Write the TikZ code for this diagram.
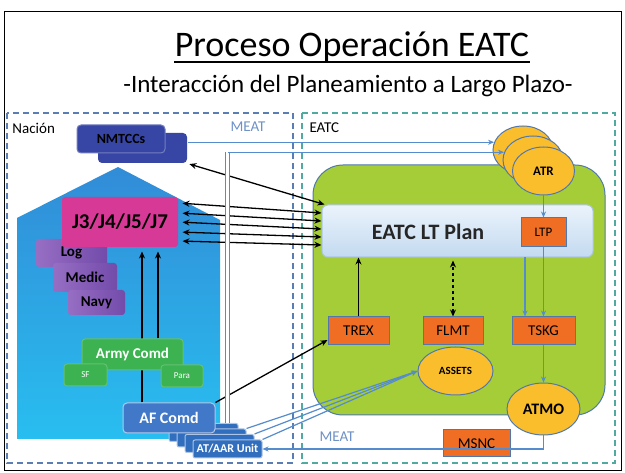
\documentclass[tikz,border=0pt]{standalone}
\usepackage{fontspec}
\setmainfont{Carlito}
\usetikzlibrary{shapes.geometric,arrows.meta,positioning}

\newcommand{\fsz}[1]{\fontsize{#1}{#1}\selectfont}

\definecolor{housetop}{RGB}{50,140,215}
\definecolor{housebot}{RGB}{40,190,240}
\definecolor{jbox}{RGB}{214,58,150}
\definecolor{purpl}{RGB}{115,75,170}
\definecolor{purpr}{RGB}{150,110,195}
\definecolor{armyc}{RGB}{60,178,80}
\definecolor{afc}{RGB}{65,120,200}
\definecolor{unitc}{RGB}{50,110,190}
\definecolor{nmtc}{RGB}{55,70,165}
\definecolor{greenarea}{RGB}{165,205,55}
\definecolor{plantop}{RGB}{235,243,252}
\definecolor{planbot}{RGB}{195,218,240}
\definecolor{orangebox}{RGB}{240,110,35}
\definecolor{yellowbox}{RGB}{250,190,45}
\definecolor{edge}{RGB}{80,120,175}
\definecolor{meat}{RGB}{85,140,205}
\definecolor{meattext}{RGB}{110,145,200}
\definecolor{leftdash}{RGB}{90,125,180}
\definecolor{rightdash}{RGB}{80,170,160}

\begin{document}
\begin{tikzpicture}[x=1pt, y=-1pt, inner sep=0pt, line width=1pt,
  bx/.style = {draw=edge, fill=orangebox, minimum height=28pt, font=\fsz{15}},
  ell/.style = {ellipse, draw=edge, fill=yellowbox, font=\bfseries\fsz{13}},
  purp/.style = {left color=purpr, right color=purpl, rounded corners=3pt, font=\bfseries\fsz{15}},
  army/.style = {fill=armyc, draw=armyc!80!white, rounded corners=3pt, text=white},
  unitbox/.style = {fill=unitc, draw=white!60!unitc, rounded corners=2pt, minimum width=69pt, minimum height=18pt},
  dbl/.style = {{Stealth[length=7pt,width=6pt]}-{Stealth[length=7pt,width=6pt]}, black, line width=1.3pt},
  up/.style = {-{Stealth[length=7pt,width=6pt]}, black, line width=1.3pt},
  blu/.style = {-{Stealth[length=6pt,width=5pt]}, meat, line width=1.2pt}
  ]

\fill[white] (0,0) rectangle (625,473);
\useasboundingbox (0,0) rectangle (625,473);
\draw[black] (4,12) rectangle (621,471);

\node (title) [anchor=base, font=\fsz{36}] at (352,57) {Proceso Operación EATC};
\draw[line width=1.3pt] ([yshift=-5pt]title.base west) -- ([yshift=-5pt]title.base east);
\node (sub) [anchor=base, font=\fsz{25}] at (348,93) {-Interacción del Planeamiento a Largo Plazo-};

\draw[leftdash, line width=1.3pt, dash pattern=on 6pt off 4pt] (7,113) rectangle (293,463);
\draw[rightdash, line width=1.3pt, dash pattern=on 6pt off 4pt] (302,113) rectangle (615,463);
\node (nacion) [anchor=west, font=\fsz{15}] at (12,128) {Nación};
\node (eatc) [anchor=west, font=\fsz{15}] at (309,128) {EATC};
\node (meat1) [text=meattext, font=\fsz{15}] at (248,127) {MEAT};
\node (meat2) [text=meattext, font=\fsz{15}] at (337,437) {MEAT};

% Nacion side
\shade[top color=housetop, bottom color=housebot] (118,167) -- (220,220) -- (220,439) -- (17,439) -- (17,218) -- cycle;

\node (nmtb) [fill=nmtc, rounded corners=4pt, minimum width=89pt, minimum height=30pt] at (142.5,148) {};
\node (nmt) [fill=nmtc, draw=nmtc!70!white, rounded corners=4pt, minimum width=88pt, minimum height=28pt, font=\bfseries\fsz{14}] at (121,139) {NMTCCs};

\node (log) [purp, minimum width=71pt, minimum height=28pt] at (71.5,253) {Log};
\node (medic) [purp, minimum width=64pt, minimum height=29pt] at (85,277.5) {Medic};
\node (navy) [purp, minimum width=57pt, minimum height=25pt] at (96.5,302.5) {Navy};
\node (j3) [fill=jbox, rounded corners=3pt, minimum width=116pt, minimum height=50pt, font=\bfseries\fsz{21}] at (120,222) {J3/J4/J5/J7};

\foreach \k in {1,2,3}
  \node (u\k) [unitbox] at ({203.5+8*(\k-1)},{432.5+5.5*(\k-1)}) {};
\node (unit) [unitbox, text=white, font=\bfseries\fsz{12}] at (227.5,449) {AT/AAR Unit};
\node (af) [fill=afc, draw=white!60!afc, rounded corners=4pt, minimum width=92pt, minimum height=30pt, text=white, font=\bfseries\fsz{16}] at (169,418) {AF Comd};

\draw[up, shorten >=4pt] ([xshift=-27pt]af.north) coordinate (a1) -- (a1 |- j3.south);
\node (army) [army, minimum width=101pt, minimum height=31pt, font=\bfseries\fsz{15}] at (132.5,354.5) {Army Comd};
\node (sf) [army, minimum width=43pt, minimum height=22pt, font=\fsz{9}] at (85.5,375) {SF};
\node (para) [army, minimum width=42pt, minimum height=22pt, font=\fsz{9}] at (182,376) {Para};
\draw[up, shorten >=4pt] ([xshift=25.5pt]army.north) coordinate (a2) -- (a2 |- j3.south);

% EATC side
\draw[edge, fill=greenarea, rounded corners=30pt] (313,165) rectangle (605,415);
\node (plan) [draw=planbot!80!edge, top color=plantop, bottom color=planbot, rounded corners=6pt, minimum width=271pt, minimum height=52pt] at (457.5,231) {};
\node (plantxt) [font=\bfseries\fsz{22}, text=black!85] at (428,232) {EATC LT Plan};
\node (ltp) [bx, minimum width=45pt, minimum height=29pt, font=\fsz{13}] at (543.5,232.5) {LTP};

\node (atr1) [ell, minimum width=60pt, minimum height=48pt] at (523,150) {};
\node (atr2) [ell, minimum width=60pt, minimum height=48pt] at (533,160) {};
\node (atr) [ell, minimum width=62pt, minimum height=48pt] at (543.5,171) {ATR};

\node (trex) [bx, minimum width=61pt] at (358.5,331) {TREX};
\node (flmt) [bx, minimum width=60pt] at (453,331) {FLMT};
\node (tskg) [bx, minimum width=63pt] at (543.5,331) {TSKG};
\node (assets) [ell, minimum width=75pt, minimum height=48pt, font=\bfseries\fsz{11}] at (455.5,371) {ASSETS};
\node (atmo) [ell, minimum width=73pt, minimum height=52pt, font=\bfseries\fsz{16}] at (543.5,409) {ATMO};
\node (msnc) [bx, minimum width=67pt, minimum height=27pt] at (476.5,443.5) {MSNC};

\draw[dbl, shorten <=2pt] (nmtb.south east) -- ([xshift=3pt]plan.north west);
\foreach \a/\b in {19/18, 9/10, 0/2, -10/-6, -19/-14}
  \draw[dbl, shorten <=4pt] ([yshift=\a pt]j3.east) -- ([yshift=\b pt]plan.west);

\draw[up] (af.north east) -- ([yshift=-9pt]trex.west);
\draw[up] (trex.north) -- (trex.north |- plan.south);
\draw[dbl, dashed, shorten >=3pt] (flmt.north) -- (flmt.north |- plan.south);

\draw[blu] (atr.south) -- (ltp.north);
\draw[blu] (ltp.south) -- (ltp.south |- tskg.north);
\coordinate (l2) at ([xshift=-18.5pt]ltp.south);
\draw[blu] (l2 |- plan.south) -- (l2 |- tskg.north);
\draw[blu] (tskg.south) -- (atmo.north);
\draw[blu] (atmo.south) |- (unit.east);

\draw[blu] (nmtb.east |- atr1.165) -- (atr1.165);
\coordinate (pipe) at ([xshift=-11pt]u1.north east);
\draw[meat, line width=0.8pt, double=white, double distance=3.5pt] (pipe) -- (pipe |- atr2.165);
\draw[blu] (pipe |- atr2.165) -- (atr2.165);

\foreach \n in {u2,u3,unit}
  \draw[blu] (\n.north east) -- (assets.west);

\end{tikzpicture}
\end{document}
